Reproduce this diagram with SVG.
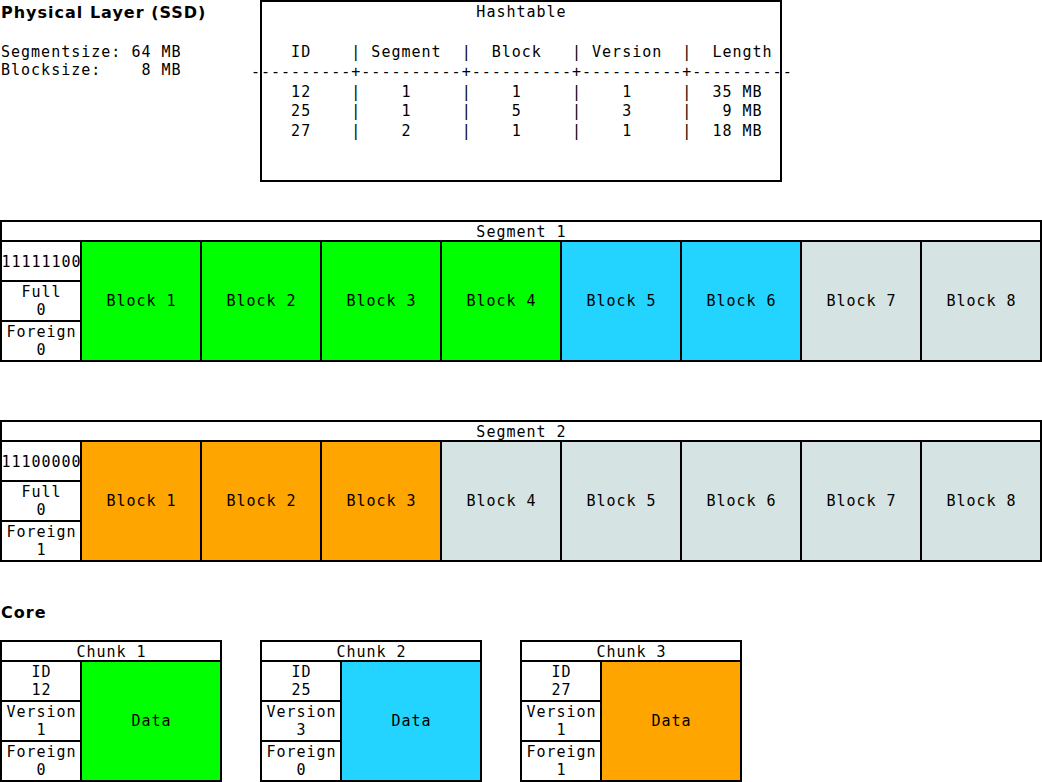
<svg xmlns="http://www.w3.org/2000/svg" width="1042" height="782" viewBox="0 0 1042 782">
<style>
  .box { stroke: #000; stroke-width: 2; fill: #fff; }
  .g { fill: #00ff00; }
  .c { fill: #22d4ff; }
  .o { fill: #ffa500; }
  .e { fill: #d5e3e3; }
  text { font-family: "DejaVu Sans Mono", "Liberation Mono", monospace; font-size: 15px; letter-spacing: 1px; fill: #000; }
  .m { text-anchor: middle; }
  .h { font-family: "DejaVu Sans", "Liberation Sans", sans-serif; font-weight: bold; font-size: 16px; letter-spacing: 1px; }
</style>
<rect width="1042" height="782" fill="#fff"/>

<g id="physical-title">
  <text class="h" x="1" y="18">Physical Layer (SSD)</text>
  <text x="1" y="56.5" xml:space="preserve">Segmentsize: 64 MB</text>
  <text x="1" y="74.5" xml:space="preserve">Blocksize:    8 MB</text>
</g>

<g id="hashtable">
  <rect class="box" x="261" y="1" width="520" height="180"/>
  <text class="m" x="521.5" y="17">Hashtable</text>
  <text x="251" y="57" xml:space="preserve">    ID    | Segment  |  Block   | Version  |  Length</text>
  <text x="251" y="77" xml:space="preserve">----------+----------+----------+----------+----------</text>
  <text x="251" y="96.5" xml:space="preserve">    12    |    1     |    1     |    1     |  35 MB</text>
  <text x="251" y="116" xml:space="preserve">    25    |    1     |    5     |    3     |   9 MB</text>
  <text x="251" y="135.5" xml:space="preserve">    27    |    2     |    1     |    1     |  18 MB</text>
</g>

<g id="segment1">
  <rect class="box" x="1" y="221" width="1040" height="20"/>
  <text class="m" x="521.5" y="236.5">Segment 1</text>
  <rect class="box" x="1" y="241" width="80" height="40"/>
  <text class="m" x="41.5" y="266.5">11111100</text>
  <rect class="box" x="1" y="281" width="80" height="40"/>
  <text class="m" x="41.5" y="297">Full</text>
  <text class="m" x="41.5" y="315">0</text>
  <rect class="box" x="1" y="321" width="80" height="40"/>
  <text class="m" x="41.5" y="337">Foreign</text>
  <text class="m" x="41.5" y="355">0</text>
  <g id="s1-block1"><rect class="box g" x="81" y="241" width="120" height="120"/><text class="m" x="141.5" y="306">Block 1</text></g>
  <g id="s1-block2"><rect class="box g" x="201" y="241" width="120" height="120"/><text class="m" x="261.5" y="306">Block 2</text></g>
  <g id="s1-block3"><rect class="box g" x="321" y="241" width="120" height="120"/><text class="m" x="381.5" y="306">Block 3</text></g>
  <g id="s1-block4"><rect class="box g" x="441" y="241" width="120" height="120"/><text class="m" x="501.5" y="306">Block 4</text></g>
  <g id="s1-block5"><rect class="box c" x="561" y="241" width="120" height="120"/><text class="m" x="621.5" y="306">Block 5</text></g>
  <g id="s1-block6"><rect class="box c" x="681" y="241" width="120" height="120"/><text class="m" x="741.5" y="306">Block 6</text></g>
  <g id="s1-block7"><rect class="box e" x="801" y="241" width="120" height="120"/><text class="m" x="861.5" y="306">Block 7</text></g>
  <g id="s1-block8"><rect class="box e" x="921" y="241" width="120" height="120"/><text class="m" x="981.5" y="306">Block 8</text></g>
</g>

<g id="segment2">
  <rect class="box" x="1" y="421" width="1040" height="20"/>
  <text class="m" x="521.5" y="436.5">Segment 2</text>
  <rect class="box" x="1" y="441" width="80" height="40"/>
  <text class="m" x="41.5" y="466.5">11100000</text>
  <rect class="box" x="1" y="481" width="80" height="40"/>
  <text class="m" x="41.5" y="497">Full</text>
  <text class="m" x="41.5" y="515">0</text>
  <rect class="box" x="1" y="521" width="80" height="40"/>
  <text class="m" x="41.5" y="537">Foreign</text>
  <text class="m" x="41.5" y="555">1</text>
  <g id="s2-block1"><rect class="box o" x="81" y="441" width="120" height="120"/><text class="m" x="141.5" y="506">Block 1</text></g>
  <g id="s2-block2"><rect class="box o" x="201" y="441" width="120" height="120"/><text class="m" x="261.5" y="506">Block 2</text></g>
  <g id="s2-block3"><rect class="box o" x="321" y="441" width="120" height="120"/><text class="m" x="381.5" y="506">Block 3</text></g>
  <g id="s2-block4"><rect class="box e" x="441" y="441" width="120" height="120"/><text class="m" x="501.5" y="506">Block 4</text></g>
  <g id="s2-block5"><rect class="box e" x="561" y="441" width="120" height="120"/><text class="m" x="621.5" y="506">Block 5</text></g>
  <g id="s2-block6"><rect class="box e" x="681" y="441" width="120" height="120"/><text class="m" x="741.5" y="506">Block 6</text></g>
  <g id="s2-block7"><rect class="box e" x="801" y="441" width="120" height="120"/><text class="m" x="861.5" y="506">Block 7</text></g>
  <g id="s2-block8"><rect class="box e" x="921" y="441" width="120" height="120"/><text class="m" x="981.5" y="506">Block 8</text></g>
</g>

<g id="core-title">
  <text class="h" x="1" y="618">Core</text>
</g>

<g id="chunk1">
  <rect class="box" x="1" y="641" width="220" height="20"/>
  <text class="m" x="111.5" y="656.5">Chunk 1</text>
  <rect class="box" x="1" y="661" width="80" height="40"/>
  <text class="m" x="41.5" y="677">ID</text>
  <text class="m" x="41.5" y="695">12</text>
  <rect class="box" x="1" y="701" width="80" height="40"/>
  <text class="m" x="41.5" y="717">Version</text>
  <text class="m" x="41.5" y="735">1</text>
  <rect class="box" x="1" y="741" width="80" height="40"/>
  <text class="m" x="41.5" y="757">Foreign</text>
  <text class="m" x="41.5" y="775">0</text>
  <rect class="box g" x="81" y="661" width="140" height="120"/>
  <text class="m" x="151.5" y="726">Data</text>
</g>

<g id="chunk2">
  <rect class="box" x="261" y="641" width="220" height="20"/>
  <text class="m" x="371.5" y="656.5">Chunk 2</text>
  <rect class="box" x="261" y="661" width="80" height="40"/>
  <text class="m" x="301.5" y="677">ID</text>
  <text class="m" x="301.5" y="695">25</text>
  <rect class="box" x="261" y="701" width="80" height="40"/>
  <text class="m" x="301.5" y="717">Version</text>
  <text class="m" x="301.5" y="735">3</text>
  <rect class="box" x="261" y="741" width="80" height="40"/>
  <text class="m" x="301.5" y="757">Foreign</text>
  <text class="m" x="301.5" y="775">0</text>
  <rect class="box c" x="341" y="661" width="140" height="120"/>
  <text class="m" x="411.5" y="726">Data</text>
</g>

<g id="chunk3">
  <rect class="box" x="521" y="641" width="220" height="20"/>
  <text class="m" x="631.5" y="656.5">Chunk 3</text>
  <rect class="box" x="521" y="661" width="80" height="40"/>
  <text class="m" x="561.5" y="677">ID</text>
  <text class="m" x="561.5" y="695">27</text>
  <rect class="box" x="521" y="701" width="80" height="40"/>
  <text class="m" x="561.5" y="717">Version</text>
  <text class="m" x="561.5" y="735">1</text>
  <rect class="box" x="521" y="741" width="80" height="40"/>
  <text class="m" x="561.5" y="757">Foreign</text>
  <text class="m" x="561.5" y="775">1</text>
  <rect class="box o" x="601" y="661" width="140" height="120"/>
  <text class="m" x="671.5" y="726">Data</text>
</g>
</svg>
